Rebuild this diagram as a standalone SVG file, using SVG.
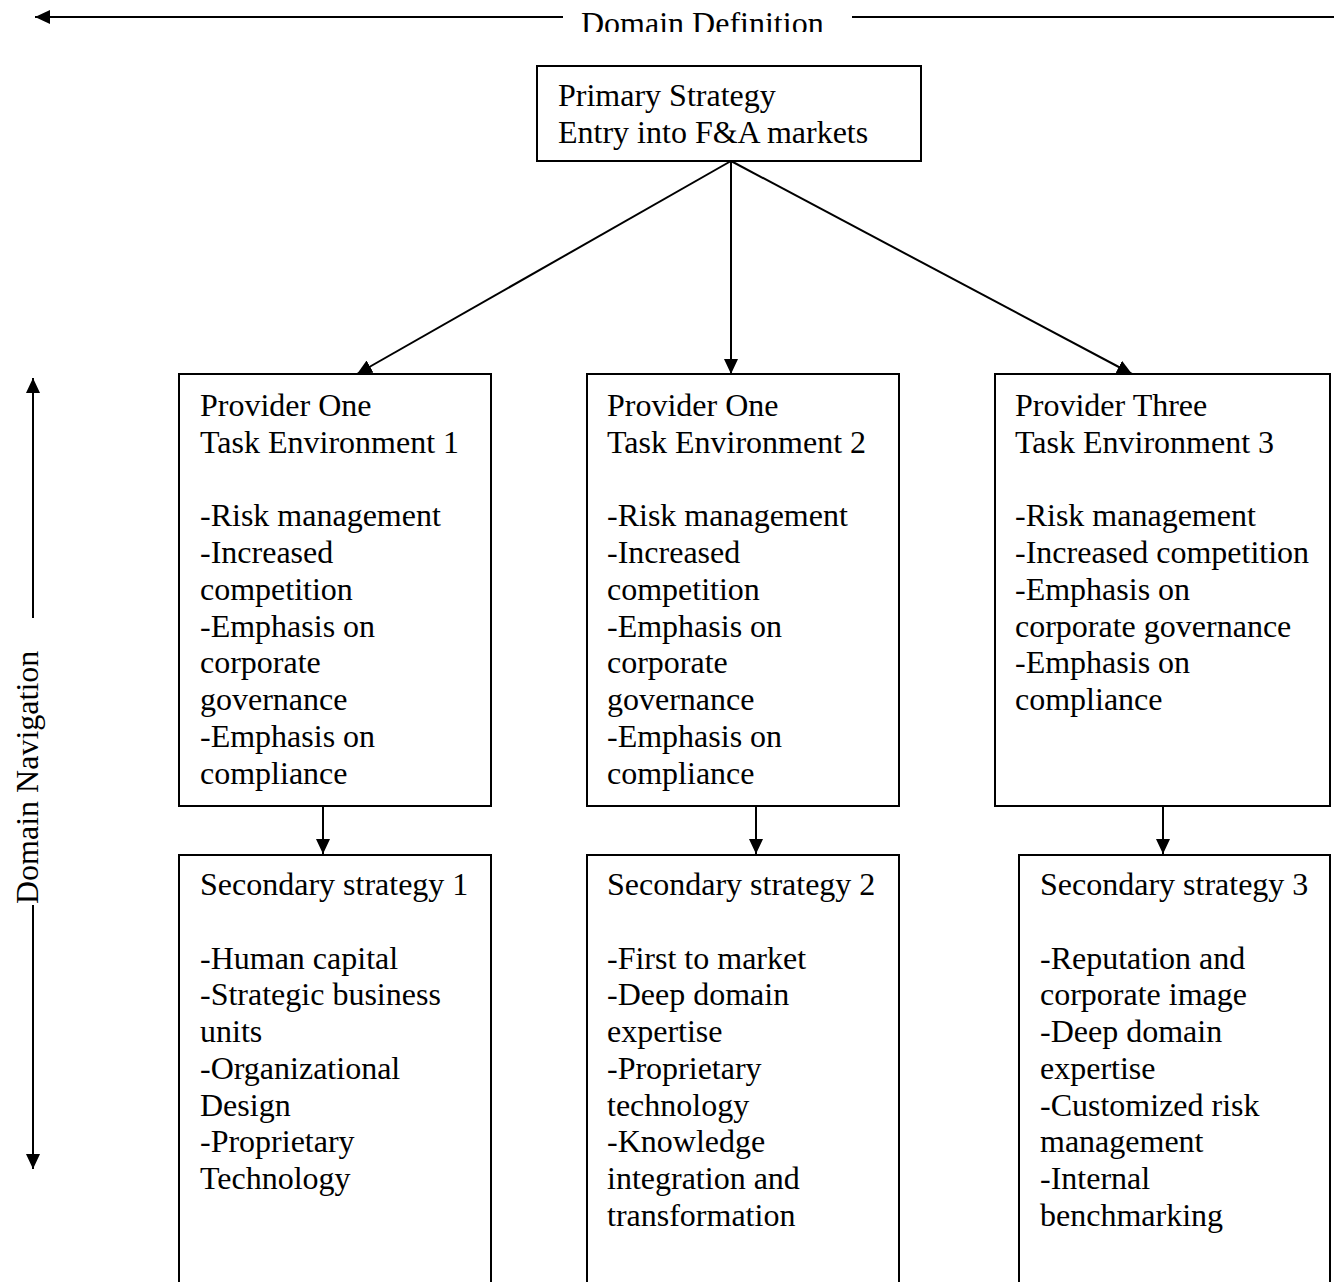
<svg xmlns="http://www.w3.org/2000/svg" width="1334" height="1282" viewBox="0 0 1334 1282">
<style>
.box{fill:#fff;stroke:#000;stroke-width:2}
.ln{stroke:#000;stroke-width:2;fill:none}
.t{font-family:"Liberation Serif","Times New Roman",serif;font-size:32px;fill:#000}
</style>
<defs>
<marker id="ah" markerUnits="userSpaceOnUse" markerWidth="16" markerHeight="14" refX="15" refY="7" orient="auto">
<path d="M0,0 L15,7 L0,14 z" fill="#000"/>
</marker>
<clipPath id="topclip"><rect x="0" y="0" width="1334" height="32"/></clipPath>
</defs>
<rect width="1334" height="1282" fill="#fff"/>

<g id="connectors">
<line class="ln" x1="563" y1="17" x2="35" y2="17" marker-end="url(#ah)"/>
<line class="ln" x1="852" y1="17" x2="1334" y2="17"/>
<line class="ln" x1="33" y1="618" x2="33" y2="378" marker-end="url(#ah)"/>
<line class="ln" x1="33" y1="905" x2="33" y2="1169" marker-end="url(#ah)"/>
<line class="ln" x1="731" y1="161" x2="357" y2="374" marker-end="url(#ah)"/>
<line class="ln" x1="731" y1="161" x2="731" y2="374" marker-end="url(#ah)"/>
<line class="ln" x1="731" y1="161" x2="1132" y2="374" marker-end="url(#ah)"/>
<line class="ln" x1="323" y1="806" x2="323" y2="854" marker-end="url(#ah)"/>
<line class="ln" x1="756" y1="806" x2="756" y2="854" marker-end="url(#ah)"/>
<line class="ln" x1="1163" y1="806" x2="1163" y2="854" marker-end="url(#ah)"/>
</g>

<g id="labels">
<text class="t" x="581" y="34" clip-path="url(#topclip)">Domain Definition</text>
<text class="t" transform="translate(38,904) rotate(-90)">Domain Navigation</text>
</g>

<g id="primary">
<rect class="box" x="537" y="66" width="384" height="95"/>
<text class="t" x="558" y="106">Primary Strategy</text>
<text class="t" x="558" y="142.5">Entry into F&amp;A markets</text>
</g>

<g id="provider1">
<rect class="box" x="179" y="374" width="312" height="432"/>
<text class="t" x="200">
<tspan x="200" y="416">Provider One</tspan>
<tspan x="200" y="452.75">Task Environment 1</tspan>
<tspan x="200" y="526.25">-Risk management</tspan>
<tspan x="200" y="563">-Increased</tspan>
<tspan x="200" y="599.75">competition</tspan>
<tspan x="200" y="636.5">-Emphasis on</tspan>
<tspan x="200" y="673.25">corporate</tspan>
<tspan x="200" y="710">governance</tspan>
<tspan x="200" y="746.75">-Emphasis on</tspan>
<tspan x="200" y="783.5">compliance</tspan>
</text>
</g>

<g id="provider2">
<rect class="box" x="587" y="374" width="312" height="432"/>
<text class="t">
<tspan x="607" y="416">Provider One</tspan>
<tspan x="607" y="452.75">Task Environment 2</tspan>
<tspan x="607" y="526.25">-Risk management</tspan>
<tspan x="607" y="563">-Increased</tspan>
<tspan x="607" y="599.75">competition</tspan>
<tspan x="607" y="636.5">-Emphasis on</tspan>
<tspan x="607" y="673.25">corporate</tspan>
<tspan x="607" y="710">governance</tspan>
<tspan x="607" y="746.75">-Emphasis on</tspan>
<tspan x="607" y="783.5">compliance</tspan>
</text>
</g>

<g id="provider3">
<rect class="box" x="995" y="374" width="335" height="432"/>
<text class="t">
<tspan x="1015" y="416">Provider Three</tspan>
<tspan x="1015" y="452.75">Task Environment 3</tspan>
<tspan x="1015" y="526.25">-Risk management</tspan>
<tspan x="1015" y="563">-Increased competition</tspan>
<tspan x="1015" y="599.75">-Emphasis on</tspan>
<tspan x="1015" y="636.5">corporate governance</tspan>
<tspan x="1015" y="673.25">-Emphasis on</tspan>
<tspan x="1015" y="710">compliance</tspan>
</text>
</g>

<g id="secondary1">
<rect class="box" x="179" y="855" width="312" height="440"/>
<text class="t">
<tspan x="200" y="895">Secondary strategy 1</tspan>
<tspan x="200" y="968.5">-Human capital</tspan>
<tspan x="200" y="1005.25">-Strategic business</tspan>
<tspan x="200" y="1042">units</tspan>
<tspan x="200" y="1078.75">-Organizational</tspan>
<tspan x="200" y="1115.5">Design</tspan>
<tspan x="200" y="1152.25">-Proprietary</tspan>
<tspan x="200" y="1189">Technology</tspan>
</text>
</g>

<g id="secondary2">
<rect class="box" x="587" y="855" width="312" height="440"/>
<text class="t">
<tspan x="607" y="895">Secondary strategy 2</tspan>
<tspan x="607" y="968.5">-First to market</tspan>
<tspan x="607" y="1005.25">-Deep domain</tspan>
<tspan x="607" y="1042">expertise</tspan>
<tspan x="607" y="1078.75">-Proprietary</tspan>
<tspan x="607" y="1115.5">technology</tspan>
<tspan x="607" y="1152.25">-Knowledge</tspan>
<tspan x="607" y="1189">integration and</tspan>
<tspan x="607" y="1225.75">transformation</tspan>
</text>
</g>

<g id="secondary3">
<rect class="box" x="1019" y="855" width="311" height="440"/>
<text class="t">
<tspan x="1040" y="895">Secondary strategy 3</tspan>
<tspan x="1040" y="968.5">-Reputation and</tspan>
<tspan x="1040" y="1005.25">corporate image</tspan>
<tspan x="1040" y="1042">-Deep domain</tspan>
<tspan x="1040" y="1078.75">expertise</tspan>
<tspan x="1040" y="1115.5">-Customized risk</tspan>
<tspan x="1040" y="1152.25">management</tspan>
<tspan x="1040" y="1189">-Internal</tspan>
<tspan x="1040" y="1225.75">benchmarking</tspan>
</text>
</g>
</svg>
